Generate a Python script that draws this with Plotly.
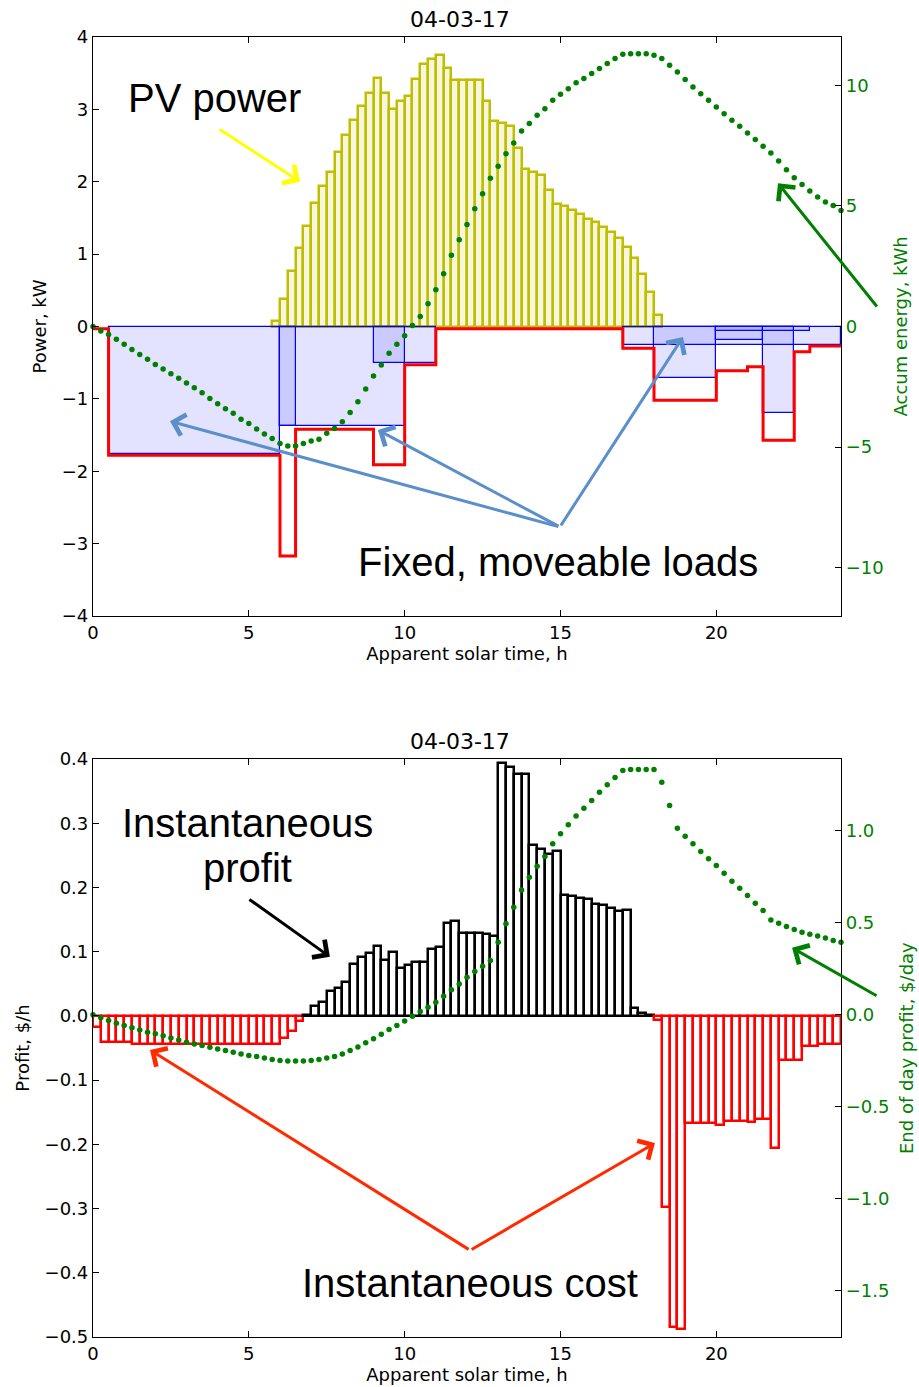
import plotly.graph_objects as go

# ---------------------------------------------------------------- data
STEP = 0.25  # 15-minute resolution, hours

# PV generation, kW, one value per 15 min starting at 05:45
pv_start = 5.75
pv_kw = [0.07, 0.38, 0.77, 1.09, 1.39, 1.71, 1.94, 2.14, 2.41, 2.65,
         2.86, 3.05, 3.23, 3.44, 3.23, 3.00, 3.11, 3.19, 3.42, 3.63,
         3.70, 3.75, 3.57, 3.40, 3.40, 3.41, 3.40, 3.12, 2.84, 2.81,
         2.77, 2.47, 2.18, 2.13, 2.09, 1.89, 1.69, 1.66, 1.61, 1.55,
         1.48, 1.44, 1.37, 1.30, 1.22, 1.10, 0.94, 0.73, 0.47, 0.16]

# individual fixed / moveable loads (start h, end h, power kW)
load_start = [0.5, 6.0, 6.0, 9.0, 17.0, 18.0, 20.0, 20.0, 21.5]
load_end = [6.0, 10.0, 6.5, 11.0, 24.0, 20.0, 21.5, 23.0, 22.5]
load_kw = [-1.76, -1.37, -1.37, -0.50, -0.25, -0.71, -0.19, -0.06, -1.20]

# total household load, step profile (value holds until next time)
total_t = [0, 0.5, 6, 6.5, 9, 10, 11, 17, 18, 20, 21, 21.5, 22.5, 23, 24]
total_kw = [-0.03, -1.78, -3.17, -1.42, -1.91, -0.53, -0.03, -0.30, -1.02,
            -0.61, -0.555, -1.57, -0.35, -0.27, -0.27]

# accumulated energy, kWh, every 15 min from 0 h to 24 h
accum_kwh = [0.0, -0.19, -0.33, -0.53, -0.74, -0.95, -1.16, -1.36, -1.57, -1.76,
             -1.96, -2.15, -2.34, -2.54, -2.75, -2.98, -3.20, -3.41, -3.60, -3.84,
             -4.02, -4.25, -4.46, -4.64, -4.85, -4.95, -4.95, -4.85, -4.75, -4.67,
             -4.43, -4.23, -3.95, -3.56, -3.12, -2.59, -2.05, -1.60, -1.11, -0.74,
             -0.38, 0.04, 0.41, 0.94, 1.52, 2.19, 2.95, 3.60, 4.23, 4.88,
             5.50, 6.15, 6.64, 7.16, 7.61, 8.10, 8.41, 8.76, 9.03, 9.38,
             9.63, 9.86, 10.10, 10.28, 10.49, 10.69, 10.90, 11.11, 11.29, 11.31,
             11.31, 11.31, 11.24, 11.11, 10.83, 10.55, 10.24, 9.93, 9.65, 9.38,
             9.10, 8.82, 8.55, 8.30, 8.02, 7.75, 7.47, 7.19, 6.86, 6.50,
             6.17, 5.89, 5.62, 5.37, 5.16, 5.02, 4.81]

# instantaneous profit, $/h, one value per 15 min from 0 h
profit = [-0.017, -0.040, -0.040, -0.040, -0.040,
          -0.044, -0.044, -0.044, -0.044, -0.044, -0.044, -0.044, -0.044, -0.044,
          -0.044, -0.044, -0.044, -0.044, -0.044, -0.044, -0.044, -0.044, -0.044,
          -0.044, -0.035, -0.024, -0.008, 0.002, 0.015, 0.021,
          0.038, 0.043, 0.052, 0.081, 0.092, 0.098, 0.109, 0.087, 0.099, 0.074,
          0.079, 0.084, 0.084, 0.104, 0.107, 0.144, 0.147, 0.129, 0.129, 0.129,
          0.127, 0.125, 0.394, 0.387, 0.376, 0.376, 0.266, 0.260, 0.252, 0.256,
          0.188, 0.186, 0.184, 0.182, 0.174, 0.172, 0.168, 0.163, 0.165, 0.012,
          0.005, 0.002, -0.007, -0.298, -0.485, -0.487, -0.166, -0.166, -0.166, -0.166,
          -0.170, -0.163, -0.163, -0.163, -0.165, -0.161, -0.161, -0.206, -0.069, -0.069,
          -0.069, -0.047, -0.047, -0.043, -0.043, -0.043]

# end-of-day profit running total, $/day, every 15 min from 0 h to 24 h
profit_cum = [0.0, -0.015, -0.030, -0.045, -0.058, -0.070, -0.082, -0.094, -0.103, -0.114,
              -0.125, -0.136, -0.149, -0.158, -0.167, -0.176, -0.185, -0.194, -0.203, -0.212,
              -0.221, -0.226, -0.234, -0.243, -0.248, -0.250, -0.250, -0.250, -0.248, -0.243,
              -0.235, -0.226, -0.212, -0.194, -0.174, -0.152, -0.130, -0.105, -0.080, -0.058,
              -0.033, -0.007, 0.018, 0.042, 0.069, 0.101, 0.136, 0.168, 0.205, 0.236,
              0.264, 0.295, 0.395, 0.495, 0.585, 0.679, 0.748, 0.808, 0.861, 0.929,
              0.984, 1.033, 1.080, 1.123, 1.165, 1.210, 1.250, 1.290, 1.328, 1.333,
              1.333, 1.333, 1.333, 1.264, 1.138, 1.014, 0.971, 0.929, 0.888, 0.848,
              0.812, 0.770, 0.726, 0.688, 0.649, 0.607, 0.567, 0.516, 0.498, 0.480,
              0.464, 0.449, 0.438, 0.428, 0.417, 0.404, 0.395]

title_text = "04-03-17"
x_ticks = [0, 5, 10, 15, 20]

# ---------------------------------------------------------------- styling
W, H = 919, 1387
GREEN = "#008000"
TICK_FONT = dict(family="DejaVu Sans", size=18, color="black")
LABEL_FONT = dict(family="DejaVu Sans", size=18, color="black")
GREEN_FONT = dict(family="DejaVu Sans", size=18, color=GREEN)
NOTE_FONT = dict(family="Liberation Sans, Arial", size=40, color="black")

x_dom = [93 / W, 841 / W]
top_dom = [1 - 616 / H, 1 - 37 / H]
bot_dom = [1 - 1337 / H, 1 - 759 / H]

pv_x = [pv_start + STEP * (k + 0.5) for k in range(len(pv_kw))]
load_x = [(a + b) / 2 for a, b in zip(load_start, load_end)]
load_w = [b - a for a, b in zip(load_start, load_end)]
t_points = [STEP * i for i in range(len(accum_kwh))]
profit_x = [STEP * (i + 0.5) for i in range(len(profit))]
profit_edge = ["black" if v >= 0 else "red" for v in profit]

fig = go.Figure()

# --- top panel: power balance
fig.add_trace(go.Bar(
    x=pv_x, y=pv_kw, width=STEP, base=0,
    marker=dict(color="rgba(191,191,0,0.12)", line=dict(color="#bfbf00", width=2.5)),
    xaxis="x", yaxis="y", showlegend=False))
fig.add_trace(go.Bar(
    x=load_x, y=load_kw, width=load_w, base=0,
    marker=dict(color="rgba(0,0,255,0.11)", line=dict(color="blue", width=1.2)),
    xaxis="x", yaxis="y", showlegend=False))
fig.add_trace(go.Scatter(
    x=total_t, y=total_kw, mode="lines", line=dict(color="red", width=3, shape="hv"),
    xaxis="x", yaxis="y", showlegend=False))
fig.add_trace(go.Scatter(
    x=t_points, y=accum_kwh, mode="markers",
    marker=dict(color=GREEN, size=5.5, line=dict(width=0)),
    xaxis="x", yaxis="y2", showlegend=False, cliponaxis=False))

# --- bottom panel: profit
fig.add_trace(go.Bar(
    x=profit_x, y=profit, width=STEP, base=0,
    marker=dict(color="rgba(255,255,255,0)", line=dict(color=profit_edge, width=2.5)),
    xaxis="x2", yaxis="y3", showlegend=False))
fig.add_trace(go.Scatter(
    x=t_points, y=profit_cum, mode="markers",
    marker=dict(color=GREEN, size=5.5, line=dict(width=0)),
    xaxis="x2", yaxis="y4", showlegend=False, cliponaxis=False))


def x_axis(anchor):
    return dict(domain=x_dom, anchor=anchor, range=[0, 24], tickvals=x_ticks,
                ticks="inside", ticklen=6, tickcolor="black", mirror="ticks",
                showline=True, linecolor="black", linewidth=1.2,
                showgrid=False, zeroline=False, tickfont=TICK_FONT,
                title=dict(text="Apparent solar time, h", font=LABEL_FONT, standoff=2),
                automargin=False)


def left_axis(domain, rng, dtick, fmt, label, anchor):
    return dict(domain=domain, anchor=anchor, range=rng, dtick=dtick, tick0=0,
                tickformat=fmt, ticks="inside", ticklen=6, tickcolor="black",
                mirror=True, showline=True, linecolor="black", linewidth=1.2,
                showgrid=False, zeroline=False, tickfont=TICK_FONT,
                title=dict(text=label, font=LABEL_FONT, standoff=10),
                automargin=False)


def right_axis(over, anchor, rng, vals, fmt):
    return dict(overlaying=over, anchor=anchor, side="right", range=rng,
                tickvals=vals, tickformat=fmt, ticks="inside", ticklen=6,
                tickcolor="black", showline=True, linecolor="black", linewidth=1.2,
                showgrid=False, zeroline=False, tickfont=GREEN_FONT,
                automargin=False)


annotations = []


def note(text, x, y, xr, yr):
    annotations.append(dict(text=text, x=x, y=y, xref=xr, yref=yr, showarrow=False,
                            xanchor="center", yanchor="middle", font=NOTE_FONT))


def arrow(head, tail, color, xr, yr):
    annotations.append(dict(text="", x=head[0], y=head[1], ax=tail[0], ay=tail[1],
                            xref=xr, yref=yr, axref=xr, ayref=yr, showarrow=True,
                            arrowhead=4, arrowsize=1.4, arrowwidth=3,
                            arrowcolor=color, standoff=0, startstandoff=0))


# titles above each panel
for dom in (top_dom, bot_dom):
    annotations.append(dict(text=title_text, x=0.5, xref="paper", xanchor="center",
                            y=dom[1], yref="paper", yanchor="bottom", yshift=3,
                            showarrow=False,
                            font=dict(family="DejaVu Sans", size=22, color="black")))

# right-hand (secondary) axis titles
for label, dom, xpx in [("Accum energy, kWh", top_dom, 900),
                        ("End of day profit, $/day", bot_dom, 906)]:
    annotations.append(dict(text=label, textangle=-90, showarrow=False,
                            x=xpx / W, xref="paper", xanchor="center",
                            y=(dom[0] + dom[1]) / 2, yref="paper", yanchor="middle",
                            font=GREEN_FONT))

# top panel callouts
note("PV power", 3.91, 3.16, "x", "y")
note("Fixed, moveable loads", 14.92, -3.25, "x", "y")
arrow((6.64, 2.0), (4.01, 2.74), "#ffff00", "x", "y")
for head in [(2.47, -1.31), (9.14, -1.43), (18.93, -0.145)]:
    arrow(head, (14.98, -2.77), "#5b8fc9", "x", "y")
arrow((21.98, 1.98), (25.19, 0.256), GREEN, "x", "y")

# bottom panel callouts
note("Instantaneous", 4.97, 0.300, "x2", "y3")
note("profit", 4.97, 0.230, "x2", "y3")
note("Instantaneous cost", 12.10, -0.4165, "x2", "y3")
arrow((7.60, 0.092), (4.97, 0.183), "black", "x2", "y3")
arrow((22.43, 0.106), (25.19, 0.030), GREEN, "x2", "y3")
for head in [(1.83, -0.053), (18.03, -0.198)]:
    arrow(head, (12.10, -0.365), "#ff2a00", "x2", "y3")

fig.update_layout(
    width=W, height=H, margin=dict(l=0, r=0, t=0, b=0),
    paper_bgcolor="white", plot_bgcolor="white",
    barmode="overlay", bargap=0, showlegend=False,
    xaxis=x_axis("y"),
    yaxis=left_axis(top_dom, [-4, 4], 1, "d", "Power, kW", "x"),
    yaxis2=right_axis("y", "x", [-12, 12], [-10, -5, 0, 5, 10], "d"),
    xaxis2=x_axis("y3"),
    yaxis3=left_axis(bot_dom, [-0.5, 0.4], 0.1, ".1f", "Profit, $/h", "x2"),
    yaxis4=right_axis("y3", "x2", [-1.75, 1.39], [-1.5, -1.0, -0.5, 0.0, 0.5, 1.0], ".1f"),
    annotations=annotations,
)

fig.write_html("out.html")
